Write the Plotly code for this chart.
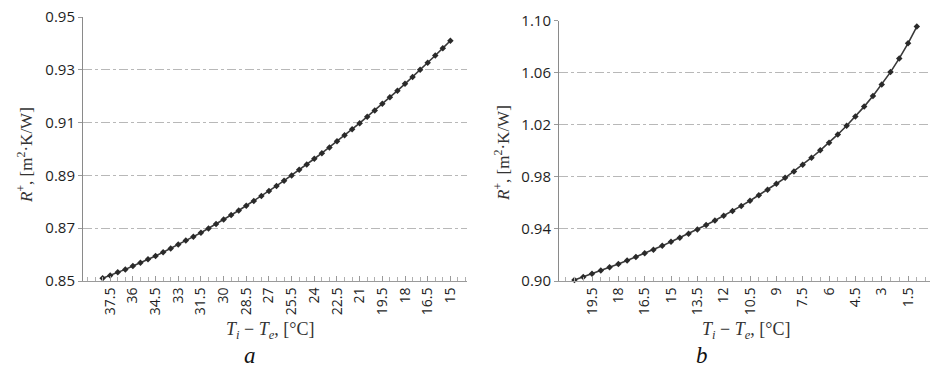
import plotly.graph_objects as go

# ---- Data ----
a_dt = [38, 37.5, 37, 36.5, 36, 35.5, 35, 34.5, 34, 33.5, 33, 32.5, 32, 31.5, 31, 30.5,
        30, 29.5, 29, 28.5, 28, 27.5, 27, 26.5, 26, 25.5, 25, 24.5, 24, 23.5, 23, 22.5,
        22, 21.5, 21, 20.5, 20, 19.5, 19, 18.5, 18, 17.5, 17, 16.5, 16, 15.5, 15]
a_r = [0.8510, 0.8521, 0.8533, 0.8544, 0.8557, 0.8569, 0.8582, 0.8595, 0.8609, 0.8623,
       0.8638, 0.8653, 0.8668, 0.8683, 0.8699, 0.8716, 0.8733, 0.8750, 0.8767, 0.8785,
       0.8803, 0.8822, 0.8841, 0.8860, 0.8880, 0.8900, 0.8921, 0.8941, 0.8963, 0.8984,
       0.9006, 0.9029, 0.9052, 0.9075, 0.9098, 0.9122, 0.9146, 0.9171, 0.9196, 0.9221,
       0.9247, 0.9273, 0.9300, 0.9327, 0.9354, 0.9382, 0.9410]
a_ticks = [37.5, 36, 34.5, 33, 31.5, 30, 28.5, 27, 25.5, 24, 22.5, 21, 19.5, 18, 16.5, 15]
a_yticks = [0.85, 0.87, 0.89, 0.91, 0.93, 0.95]

b_dt = [20.5, 20, 19.5, 19, 18.5, 18, 17.5, 17, 16.5, 16, 15.5, 15, 14.5, 14, 13.5, 13,
        12.5, 12, 11.5, 11, 10.5, 10, 9.5, 9, 8.5, 8, 7.5, 7, 6.5, 6, 5.5, 5, 4.5, 4,
        3.5, 3, 2.5, 2, 1.5, 1]
b_r = [0.9007, 0.9031, 0.9055, 0.9080, 0.9105, 0.9131, 0.9158, 0.9185, 0.9213, 0.9241,
       0.9270, 0.9301, 0.9332, 0.9363, 0.9396, 0.9430, 0.9465, 0.9501, 0.9538, 0.9577,
       0.9617, 0.9659, 0.9702, 0.9747, 0.9793, 0.9842, 0.9893, 0.9947, 1.0004, 1.0063,
       1.0126, 1.0193, 1.0264, 1.0340, 1.0421, 1.0509, 1.0605, 1.0710, 1.0826, 1.0955]
b_ticks = [19.5, 18, 16.5, 15, 13.5, 12, 10.5, 9, 7.5, 6, 4.5, 3, 1.5]
b_yticks = [0.90, 0.94, 0.98, 1.02, 1.06, 1.10]

W, H = 930, 374
LINE = "#3a3a3a"

fig = go.Figure()
for x, y, xa, ya in [(a_dt, a_r, "x", "y"), (b_dt, b_r, "x2", "y2")]:
    fig.add_trace(go.Scatter(
        x=x, y=y, xaxis=xa, yaxis=ya, mode="lines+markers",
        line=dict(color=LINE, width=1.6),
        marker=dict(symbol="diamond", size=5, color="#2a2a2a"),
        showlegend=False, hoverinfo="x+y", cliponaxis=False))

tickfont = dict(family="Open Sans, sans-serif", size=15, color="#1e1e1e")
xtickfont = dict(family="Open Sans, sans-serif", size=14, color="#1e1e1e")

def xaxis(dom, rng, ticks):
    return dict(domain=dom, range=rng, tickmode="array", tickvals=ticks,
                ticktext=[("%g" % t) for t in ticks], tickangle=-90,
                tickfont=xtickfont, showgrid=False, zeroline=False,
                showline=True, linecolor="#9a9a9a", linewidth=1,
                ticks="inside", ticklen=5, tickcolor="#9a9a9a",
                minor=dict(dtick=0.5, tick0=0, ticks="inside", ticklen=4,
                           tickcolor="#b0b0b0", showgrid=False),
                automargin=False, fixedrange=True)

def yaxis(dom, rng, ticks, anchor):
    return dict(domain=dom, range=rng, tickmode="array", tickvals=ticks,
                ticktext=["%.2f" % t for t in ticks], tickfont=tickfont,
                showgrid=True, gridcolor="#b8b8b8", griddash="dashdot", gridwidth=1,
                zeroline=False, showline=True, linecolor="#8a8a8a", linewidth=1,
                ticks="outside", ticklen=4, tickcolor="#9a9a9a", anchor=anchor,
                automargin=False, fixedrange=True)

fig.update_layout(
    width=W, height=H, margin=dict(l=0, r=0, t=0, b=0, autoexpand=False),
    paper_bgcolor="white", plot_bgcolor="white",
    xaxis=xaxis([83 / W, 467 / W], [39.3, 13.9], a_ticks) | dict(anchor="y"),
    yaxis=yaxis([1 - 281 / H, 1 - 17 / H], [0.85, 0.95], a_yticks, "x"),
    xaxis2=xaxis([559 / W, 1.0], [21.38, 0.25], b_ticks) | dict(anchor="y2"),
    yaxis2=yaxis([1 - 281 / H, 1 - 20.7 / H], [0.90, 1.10], b_yticks, "x2"),
)

serif = "Liberation Serif, Times New Roman, serif"
ytitle = "<i>R</i><sup>+</sup>, [m<sup>2</sup>·K/W]"
xtitle = "<i>T<sub>i</sub></i> − <i>T<sub>e</sub></i>, [°C]"
ann = [
    dict(x=25 / W, y=1 - 155 / H, text=ytitle, textangle=-90, font=dict(family=serif, size=17, color="#333")),
    dict(x=502 / W, y=1 - 153 / H, text=ytitle, textangle=-90, font=dict(family=serif, size=17, color="#333")),
    dict(x=270 / W, y=1 - 330 / H, text=xtitle, font=dict(family=serif, size=18, color="#333")),
    dict(x=746 / W, y=1 - 330 / H, text=xtitle, font=dict(family=serif, size=18, color="#333")),
    dict(x=250 / W, y=1 - 355 / H, text="<i>a</i>", font=dict(family=serif, size=23, color="#111")),
    dict(x=702 / W, y=1 - 355 / H, text="<i>b</i>", font=dict(family=serif, size=23, color="#111")),
]
for a in ann:
    a.update(xref="paper", yref="paper", showarrow=False, xanchor="center", yanchor="middle")
fig.update_layout(annotations=ann)

fig.write_html("out.html", config={"displayModeBar": False},
               post_script="document.body.style.margin='0px';document.body.style.overflow='hidden';")
